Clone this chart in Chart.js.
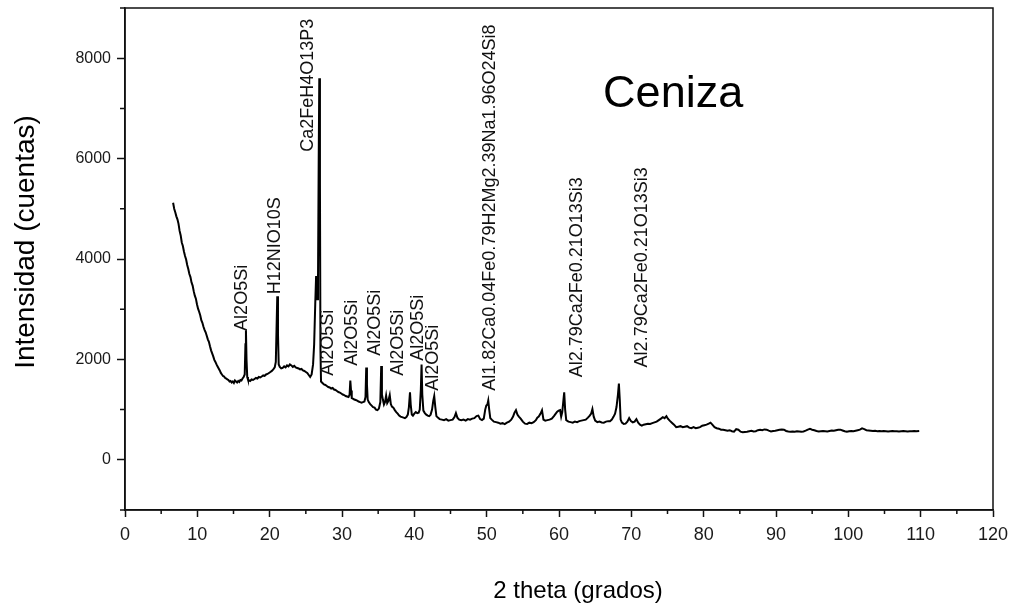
<!DOCTYPE html>
<html>
<head>
<meta charset="utf-8">
<script src="https://cdn.jsdelivr.net/npm/chart.js@4"></script>
<style>
  html, body { margin: 0; padding: 0; background: #fff; }
  #wrap { width: 1011px; height: 608px; }
</style>
</head>
<body>
<div id="wrap"><canvas id="c" width="1011" height="608"></canvas></div>
<script>
// ---- Data ----
const twoTheta = [
  6.65,6.8,6.95,7.1,7.25,7.4,7.55,7.7,7.85,8.0,
  8.15,8.3,8.45,8.6,8.75,8.9,9.05,9.2,9.35,9.5,
  9.65,9.8,9.95,10.1,10.25,10.4,10.55,10.7,10.85,11.0,
  11.15,11.3,11.45,11.6,11.75,11.9,12.05,12.2,12.35,12.5,
  12.65,12.8,12.95,13.1,13.25,13.4,13.55,13.7,13.85,14.0,
  14.15,14.3,14.45,14.6,14.75,14.9,15.05,15.2,15.35,15.5,
  15.65,15.8,15.95,16.1,16.25,16.4,16.55,16.65,16.72,16.8,
  16.9,17.0,17.15,17.3,17.5,17.7,17.9,18.1,18.3,18.5,
  18.7,18.9,19.1,19.3,19.5,19.7,19.9,20.1,20.3,20.5,
  20.7,20.85,20.95,21.05,21.15,21.25,21.4,21.6,21.8,22.0,
  22.2,22.4,22.6,22.8,23.0,23.2,23.4,23.6,23.8,24.0,
  24.2,24.4,24.6,24.8,25.0,25.2,25.4,25.6,25.8,26.0,
  26.15,26.3,26.42,26.55,26.68,26.78,26.86,26.95,27.02,27.1,
  27.3,27.5,27.7,27.9,28.1,28.3,28.5,28.7,28.9,29.1,
  29.3,29.5,29.7,29.9,30.1,30.3,30.5,30.7,30.9,31.05,
  31.15,31.25,31.35,31.5,31.7,31.9,32.1,32.3,32.5,32.7,
  32.9,33.1,33.25,33.35,33.45,33.55,33.7,33.9,34.1,34.3,
  34.5,34.7,34.9,35.1,35.3,35.42,35.52,35.65,35.8,35.95,
  36.1,36.25,36.4,36.6,36.75,36.9,37.1,37.3,37.5,37.7,
  37.9,38.1,38.3,38.5,38.7,38.9,39.1,39.25,39.4,39.5,
  39.65,39.8,40.0,40.2,40.4,40.6,40.75,40.9,41.0,41.1,
  41.25,41.45,41.65,41.85,42.05,42.25,42.45,42.62,42.75,42.9,
  43.05,43.25,43.5,43.8,44.1,44.4,44.7,45.0,45.3,45.55,
  45.75,45.95,46.2,46.5,46.8,47.1,47.4,47.7,48.0,48.3,
  48.6,48.85,49.1,49.35,49.6,49.8,49.95,50.1,50.22,50.35,
  50.5,50.7,51.0,51.3,51.6,51.9,52.2,52.5,52.8,53.1,
  53.4,53.65,53.85,54.05,54.25,54.45,54.7,55.0,55.3,55.6,
  55.9,56.2,56.5,56.8,57.0,57.2,57.45,57.65,57.85,58.1,
  58.4,58.7,59.0,59.3,59.55,59.75,59.95,60.15,60.3,60.45,
  60.62,60.72,60.85,61.0,61.3,61.6,61.9,62.2,62.5,62.8,
  63.1,63.4,63.7,64.0,64.25,64.45,64.62,64.8,65.0,65.3,
  65.6,65.9,66.2,66.5,66.8,67.05,67.3,67.55,67.75,67.95,
  68.15,68.28,68.4,68.52,68.7,68.95,69.2,69.45,69.7,69.95,
  70.2,70.45,70.7,70.95,71.2,71.45,71.7,72.0,72.3,72.6,
  72.9,73.2,73.5,73.8,74.1,74.35,74.6,74.85,75.05,75.3,
  75.6,75.9,76.2,76.5,76.8,77.1,77.4,77.7,78.0,78.3,
  78.6,78.9,79.2,79.5,79.8,80.1,80.4,80.7,80.95,81.2,
  81.5,81.8,82.1,82.4,82.7,83.0,83.3,83.6,83.9,84.2,
  84.5,84.8,85.1,85.4,85.7,86.0,86.3,86.6,86.9,87.2,
  87.5,87.8,88.1,88.4,88.7,89.0,89.3,89.6,89.9,90.2,
  90.5,90.8,91.1,91.4,91.7,92.0,92.3,92.6,92.9,93.2,
  93.5,93.8,94.1,94.4,94.7,95.0,95.3,95.6,95.9,96.2,
  96.5,96.8,97.1,97.4,97.7,98.0,98.3,98.6,98.9,99.2,
  99.5,99.8,100.1,100.4,100.7,101.0,101.3,101.6,101.9,102.2,
  102.5,102.8,103.1,103.4,103.7,104.0,104.3,104.6,104.9,105.2,
  105.5,105.8,106.1,106.4,106.7,107.0,107.3,107.6,107.9,108.2,
  108.5,108.8,109.1,109.4,109.8
];
const counts = [
  5120,5000,4930,4850,4790,4700,4560,4470,4330,4260,
  4150,4060,3990,3880,3800,3700,3640,3530,3470,3360,
  3270,3210,3100,3010,2950,2880,2780,2730,2650,2590,
  2540,2470,2400,2350,2260,2180,2120,2060,1990,1950,
  1900,1860,1820,1780,1730,1700,1670,1660,1630,1620,
  1600,1590,1560,1570,1540,1560,1530,1580,1560,1540,
  1570,1550,1590,1580,1620,1650,1700,2300,2580,2000,
  1650,1600,1580,1570,1600,1590,1610,1630,1620,1650,
  1640,1660,1680,1670,1700,1710,1730,1750,1770,1800,
  1840,1950,2600,3260,2500,1900,1850,1820,1830,1860,
  1840,1880,1860,1900,1880,1850,1870,1840,1830,1820,
  1800,1810,1780,1770,1750,1730,1690,1650,1700,1900,
  2300,3100,3660,3200,3500,6000,7600,5500,2200,1560,
  1530,1500,1490,1470,1450,1440,1420,1430,1400,1390,
  1370,1350,1340,1320,1300,1290,1270,1260,1250,1300,
  1580,1380,1230,1220,1200,1190,1180,1160,1150,1140,
  1150,1160,1250,1840,1500,1200,1150,1110,1080,1050,
  1040,1000,990,1020,1150,1870,1300,1200,1100,1150,
  1280,1130,1170,1290,1110,1060,1040,990,950,920,
  880,860,850,840,830,850,900,1050,1345,1100,
  900,880,920,950,930,940,1000,1400,1900,1300,
  980,930,900,880,870,900,1000,1180,1270,1050,
  870,840,810,800,790,810,780,790,800,850,
  930,840,800,790,800,780,810,800,820,830,
  870,880,810,790,820,1000,1080,1100,1180,1000,
  830,800,760,750,740,720,730,710,740,760,
  800,860,940,990,900,860,820,760,720,715,
  740,730,750,790,840,860,920,985,800,780,
  790,800,820,870,920,960,980,990,860,950,
  1200,1345,1000,790,760,750,740,760,750,770,
  780,790,800,840,880,920,1010,860,780,750,
  760,745,740,760,770,770,800,860,920,1050,
  1300,1520,1200,800,740,715,720,760,830,770,
  745,760,810,740,700,680,700,710,720,715,
  730,745,760,790,820,850,830,870,820,780,
  740,700,650,660,670,650,660,670,640,630,
  650,630,640,650,680,690,700,720,740,700,
  650,630,620,600,600,590,580,590,570,560,
  610,600,560,550,555,560,570,580,565,570,
  590,600,590,605,600,580,565,575,580,590,
  600,605,600,575,565,560,565,560,570,565,
  560,565,580,600,615,600,590,575,565,570,
  575,570,565,575,585,580,590,600,600,585,
  570,560,570,575,570,580,590,600,625,610,
  590,585,580,575,580,570,575,570,575,570,
  565,570,575,570,570,565,570,575,570,565,
  570,570,575,570,575
];

// Peak identification labels (text + where each label starts, in data units)
const labelText = [
  "Al2O5Si", "H12NIO10S", "Ca2FeH4O13P3", "Al2O5Si", "Al2O5Si", "Al2O5Si",
  "Al2O5Si", "Al2O5Si", "Al2O5Si",
  "Al1.82Ca0.04Fe0.79H2Mg2.39Na1.96O24Si8",
  "Al2.79Ca2Fe0.21O13Si3", "Al2.79Ca2Fe0.21O13Si3"
];
const labelTheta  = [16.13, 20.74, 25.34, 28.11, 31.34, 34.56, 37.79, 40.55, 42.62, 50.46, 62.45, 71.44];
const labelCounts = [2568, 3297, 6137, 1674, 1873, 2071, 1674, 1972, 1376, 1376, 1642, 1841];

const sampleName = "Ceniza";
const sampleNameAt = [66.1, 7030];

const xMajorTicks = [0,10,20,30,40,50,60,70,80,90,100,110,120];
const xMinorTicks = [5,15,25,35,45,55,65,75,85,95,105,115];
const yMajorTicks = [0,2000,4000,6000,8000];
const yMinorTicks = [-1000,1000,3000,5000,7000,9000];

const xTitle = "2 theta (grados)";
const yTitle = "Intensidad (cuentas)";

// ---- Chart ----
const points = twoTheta.map((t, i) => ({ x: t, y: counts[i] }));

const FONT = '"Liberation Sans", Arial, sans-serif';

const decor = {
  id: 'decor',
  afterDraw(chart) {
    const { ctx, chartArea: a, scales: { x, y } } = chart;
    ctx.save();
    // frame
    ctx.strokeStyle = '#111';
    ctx.lineWidth = 1.5;
    ctx.strokeRect(a.left, a.top, a.right - a.left, a.bottom - a.top);
    // minor ticks
    ctx.beginPath();
    xMinorTicks.forEach(v => { const px = x.getPixelForValue(v); ctx.moveTo(px, a.bottom); ctx.lineTo(px, a.bottom + 4); });
    yMinorTicks.forEach(v => { const py = y.getPixelForValue(v); ctx.moveTo(a.left, py); ctx.lineTo(a.left - 5, py); });
    ctx.stroke();
    // peak labels
    ctx.fillStyle = '#111';
    ctx.font = '18px ' + FONT;
    ctx.textAlign = 'left';
    ctx.textBaseline = 'middle';
    labelText.forEach((t, i) => {
      ctx.save();
      ctx.translate(x.getPixelForValue(labelTheta[i]), y.getPixelForValue(labelCounts[i]));
      ctx.rotate(-Math.PI / 2);
      ctx.fillText(t, 0, 0);
      ctx.restore();
    });
    // sample name
    ctx.font = '45px ' + FONT;
    ctx.textBaseline = 'alphabetic';
    ctx.fillStyle = '#000';
    ctx.fillText(sampleName, x.getPixelForValue(sampleNameAt[0]), y.getPixelForValue(sampleNameAt[1]));
    // axis titles
    ctx.textAlign = 'center';
    ctx.textBaseline = 'middle';
    ctx.font = '24px ' + FONT;
    ctx.fillText(xTitle, 578, 591);
    ctx.save();
    ctx.translate(26, 242);
    ctx.rotate(-Math.PI / 2);
    ctx.font = '28px ' + FONT;
    ctx.fillText(yTitle, 0, 0);
    ctx.restore();
    ctx.restore();
  }
};

new Chart(document.getElementById('c'), {
  type: 'scatter',
  data: {
    datasets: [{
      data: points,
      showLine: true,
      borderColor: '#000',
      borderWidth: 2,
      pointRadius: 0,
      tension: 0
    }]
  },
  options: {
    responsive: false,
    animation: false,
    layout: { padding: { top: 8, right: 18, left: 0, bottom: 0 } },
    plugins: { legend: { display: false }, tooltip: { enabled: false } },
    scales: {
      x: {
        type: 'linear',
        min: 0, max: 120,
        afterBuildTicks: s => { s.ticks = xMajorTicks.map(v => ({ value: v })); },
        afterFit: s => { s.height = 98; s.paddingLeft = 0; s.paddingRight = 0; },
        border: { display: true, color: '#111', width: 1.5 },
        grid: { drawOnChartArea: false, drawTicks: true, tickLength: 7, tickColor: '#111', tickWidth: 1.5 },
        ticks: { color: '#1a1a1a', padding: 7, maxRotation: 0, autoSkip: false,
                 callback: v => String(v),
                 font: { family: FONT, size: 18 } }
      },
      y: {
        type: 'linear',
        min: -1000, max: 9000,
        afterBuildTicks: s => { s.ticks = yMajorTicks.map(v => ({ value: v })); },
        afterFit: s => { s.width = 125; s.paddingTop = 0; s.paddingBottom = 0; },
        border: { display: true, color: '#111', width: 1.5 },
        grid: { drawOnChartArea: false, drawTicks: true, tickLength: 8, tickColor: '#111', tickWidth: 1.5 },
        ticks: { color: '#1a1a1a', padding: 6, autoSkip: false,
                 callback: v => String(v),
                 font: { family: FONT, size: 16 } }
      }
    }
  },
  plugins: [decor]
});
</script>
</body>
</html>
